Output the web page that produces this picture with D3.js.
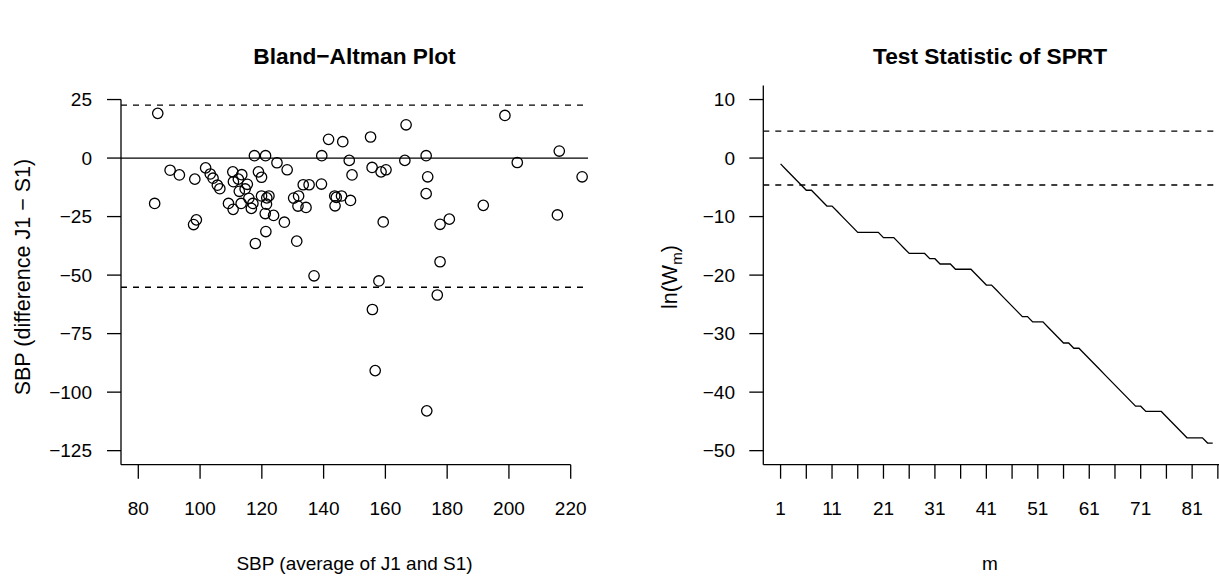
<!DOCTYPE html>
<html>
<head>
<meta charset="utf-8">
<script src="https://cdn.jsdelivr.net/npm/d3@7"></script>
<style>
  html, body { margin: 0; padding: 0; background: #fff; }
  svg { display: block; }
  text { font-family: "Liberation Sans", Arial, Helvetica, sans-serif; fill: #000; }
</style>
</head>
<body>
<svg id="chart" width="1219" height="577"></svg>
<script>
// ---------- Data: Bland-Altman ----------
const baAvg = [86.3, 90.3, 93.3, 85.3, 98.3, 97.9, 98.8, 101.8, 103.3, 104.2,
  105.6, 106.4, 109.2, 110.7, 110.6, 110.8, 112.4, 113.5, 112.7, 115.3,
  114.6, 113.3, 115.8, 116.6, 117.1, 117.6, 121.2, 118.9, 119.9, 117.9,
  121.3, 119.9, 122.3, 121.6, 121.5, 121.1, 123.8, 124.9, 127.3, 128.2,
  130.3, 131.9, 131.7, 131.3, 134.3, 133.4, 135.3, 139.4, 139.3, 136.9,
  141.6, 146.2, 148.3, 149.2, 155.2, 166.7, 155.7, 158.6, 160.2, 166.3,
  173.2, 173.7, 173.2, 198.7, 202.7, 216.3, 223.7, 143.6, 144.1, 145.8,
  143.7, 148.7, 159.3, 177.7, 180.7, 191.7, 215.7, 177.7, 157.9, 176.8,
  155.8, 156.7, 173.4];
const baDiff = [19.1, -5.2, -7.2, -19.4, -9.0, -28.4, -26.4, -4.2, -6.8, -8.6,
  -11.6, -13.1, -19.4, -21.9, -5.9, -10.1, -9.0, -7.1, -14.2, -11.2,
  -13.2, -19.4, -17.2, -21.5, -19.4, 1.0, 1.0, -5.9, -8.2, -36.5,
  -31.4, -16.2, -16.2, -17.0, -19.7, -23.7, -24.5, -2.0, -27.4, -5.0,
  -17.1, -16.2, -20.5, -35.5, -21.1, -11.4, -11.4, 1.0, -11.1, -50.3,
  8.0, 7.0, -1.0, -7.2, 9.0, 14.2, -4.0, -5.9, -5.0, -1.0,
  1.0, -8.0, -15.2, 18.2, -1.9, 3.0, -8.0, -16.2, -16.8, -16.2,
  -20.4, -18.1, -27.3, -28.3, -26.1, -20.2, -24.3, -44.3, -52.5, -58.5,
  -64.7, -90.8, -108.0];
const baMeanLine = 0;
const baLimits = [22.6, -55.2];
const baXTicks = [80, 100, 120, 140, 160, 180, 200, 220];
const baYTicks = [25, 0, -25, -50, -75, -100, -125];

// ---------- Data: SPRT test statistic (m = 1..85) ----------
const sprtW = [-1.0, -1.9, -2.8, -3.7, -4.6, -5.5, -5.5, -6.4, -7.3, -8.2,
  -8.2, -9.1, -10.0, -10.9, -11.8, -12.7, -12.7, -12.7, -12.7, -12.7,
  -13.6, -13.6, -13.6, -14.5, -15.4, -16.3, -16.3, -16.3, -16.3, -17.2,
  -17.2, -18.1, -18.1, -18.1, -19.0, -19.0, -19.0, -19.0, -19.9, -20.8,
  -21.7, -21.7, -22.6, -23.5, -24.4, -25.3, -26.2, -27.1, -27.1, -28.0,
  -28.0, -28.0, -28.9, -29.8, -30.7, -31.6, -31.6, -32.5, -32.5, -33.4,
  -34.3, -35.2, -36.1, -37.0, -37.9, -38.8, -39.7, -40.6, -41.5, -42.4,
  -42.4, -43.3, -43.3, -43.3, -43.3, -44.2, -45.1, -46.0, -46.9, -47.8,
  -47.8, -47.8, -47.8, -48.7, -48.7];
const sprtBounds = [4.6, -4.6];
const sprtXTicks = [1, 6, 11, 16, 21, 26, 31, 36, 41, 46, 51, 56, 61, 66, 71, 76, 81, 86];
const sprtXLabels = [1, 11, 21, 31, 41, 51, 61, 71, 81];
const sprtYTicks = [10, 0, -10, -20, -30, -40, -50];

// ---------- Layout ----------
const svg = d3.select("#chart");
const yTop = 85.5, yBot = 464.7;
const tickLen = 14;
const fmt = d3.format("d"); // uses U+2212 minus

const tickFont = "19px";
const labFont = "19px";
const yLabFont = "21.5px";
const titleFont = "bold 22.7px";

// ===== Left panel =====
const L = { x0: 121, x1: 588 };
const xL = d3.scaleLinear().domain([74.4, 225.6]).range([L.x0, L.x1]);
const yL = d3.scaleLinear().domain([-131, 31]).range([yBot, yTop]);

const gL = svg.append("g");
svg.append("clipPath").attr("id", "clipL").append("rect")
  .attr("x", L.x0).attr("y", yTop).attr("width", L.x1 - L.x0).attr("height", yBot - yTop);

const pL = gL.append("g").attr("clip-path", "url(#clipL)");
pL.append("line").attr("x1", L.x0).attr("x2", L.x1)
  .attr("y1", yL(baMeanLine)).attr("y2", yL(baMeanLine))
  .attr("stroke", "#000").attr("stroke-width", 1.3);
pL.selectAll("line.lim").data(baLimits).join("line").attr("class", "lim")
  .attr("x1", L.x0).attr("x2", L.x1)
  .attr("y1", d => yL(d)).attr("y2", d => yL(d))
  .attr("stroke", "#000").attr("stroke-width", 1.3).attr("stroke-dasharray", "6,6");
pL.selectAll("circle").data(baAvg).join("circle")
  .attr("cx", d => xL(d)).attr("cy", (d, i) => yL(baDiff[i]))
  .attr("r", 5.2).attr("fill", "none").attr("stroke", "#000").attr("stroke-width", 1.3);

gL.append("line").attr("x1", L.x0).attr("x2", L.x0)
  .attr("y1", yL(25)).attr("y2", yBot).attr("stroke", "#000").attr("stroke-width", 1.3);
gL.append("line").attr("x1", L.x0).attr("x2", xL(220))
  .attr("y1", yBot).attr("y2", yBot).attr("stroke", "#000").attr("stroke-width", 1.3);
gL.selectAll("line.xt").data(baXTicks).join("line").attr("class", "xt")
  .attr("x1", d => xL(d)).attr("x2", d => xL(d))
  .attr("y1", yBot).attr("y2", yBot + tickLen).attr("stroke", "#000").attr("stroke-width", 1.3);
gL.selectAll("text.xl").data(baXTicks).join("text").attr("class", "xl")
  .attr("x", d => xL(d)).attr("y", 515).attr("text-anchor", "middle")
  .style("font-size", tickFont).text(d => fmt(d));
gL.selectAll("line.yt").data(baYTicks).join("line").attr("class", "yt")
  .attr("x1", L.x0 - tickLen).attr("x2", L.x0)
  .attr("y1", d => yL(d)).attr("y2", d => yL(d)).attr("stroke", "#000").attr("stroke-width", 1.3);
gL.selectAll("text.yl").data(baYTicks).join("text").attr("class", "yl")
  .attr("x", 92).attr("y", d => yL(d)).attr("dy", "0.35em").attr("text-anchor", "end")
  .style("font-size", tickFont).text(d => fmt(d));
gL.append("text").attr("x", (L.x0 + L.x1) / 2).attr("y", 64).attr("text-anchor", "middle")
  .style("font", titleFont + " 'Liberation Sans', Arial, sans-serif").text("Bland\u2212Altman Plot");
gL.append("text").attr("x", (L.x0 + L.x1) / 2).attr("y", 570).attr("text-anchor", "middle")
  .style("font-size", labFont).text("SBP (average of J1 and S1)");
gL.append("text").attr("transform", `translate(30,${(yTop + yBot) / 2 + 2}) rotate(-90)`)
  .attr("text-anchor", "middle").style("font-size", yLabFont).text("SBP (difference J1 \u2212 S1)");

// ===== Right panel =====
const R = { x0: 763.3, x1: 1230 };
const xR = d3.scaleLinear().domain([-2.36, 88.36]).range([R.x0, R.x1]);
const yR = d3.scaleLinear().domain([-52.4, 12.4]).range([yBot, yTop]);
const gR = svg.append("g");
svg.append("clipPath").attr("id", "clipR").append("rect")
  .attr("x", R.x0).attr("y", yTop).attr("width", R.x1 - R.x0).attr("height", yBot - yTop);
const pR = gR.append("g").attr("clip-path", "url(#clipR)");
pR.selectAll("line.b").data(sprtBounds).join("line").attr("class", "b")
  .attr("x1", R.x0).attr("x2", R.x1)
  .attr("y1", d => yR(d)).attr("y2", d => yR(d))
  .attr("stroke", "#000").attr("stroke-width", 1.3).attr("stroke-dasharray", "6,6");
pR.append("path").datum(sprtW)
  .attr("d", d3.line().x((d, i) => xR(i + 1)).y(d => yR(d)))
  .attr("fill", "none").attr("stroke", "#000").attr("stroke-width", 1.3);

gR.append("line").attr("x1", R.x0).attr("x2", R.x0)
  .attr("y1", yTop).attr("y2", yBot).attr("stroke", "#000").attr("stroke-width", 1.3);
gR.append("line").attr("x1", R.x0).attr("x2", R.x1)
  .attr("y1", yBot).attr("y2", yBot).attr("stroke", "#000").attr("stroke-width", 1.3);
gR.selectAll("line.xt").data(sprtXTicks).join("line").attr("class", "xt")
  .attr("x1", d => xR(d)).attr("x2", d => xR(d))
  .attr("y1", yBot).attr("y2", yBot + tickLen).attr("stroke", "#000").attr("stroke-width", 1.3);
gR.selectAll("text.xl").data(sprtXLabels).join("text").attr("class", "xl")
  .attr("x", d => xR(d)).attr("y", 515).attr("text-anchor", "middle")
  .style("font-size", tickFont).text(d => fmt(d));
gR.selectAll("line.yt").data(sprtYTicks).join("line").attr("class", "yt")
  .attr("x1", R.x0 - tickLen).attr("x2", R.x0)
  .attr("y1", d => yR(d)).attr("y2", d => yR(d)).attr("stroke", "#000").attr("stroke-width", 1.3);
gR.selectAll("text.yl").data(sprtYTicks).join("text").attr("class", "yl")
  .attr("x", 735).attr("y", d => yR(d)).attr("dy", "0.35em").attr("text-anchor", "end")
  .style("font-size", tickFont).text(d => fmt(d));
gR.append("text").attr("x", 990).attr("y", 64).attr("text-anchor", "middle")
  .style("font", titleFont + " 'Liberation Sans', Arial, sans-serif").text("Test Statistic of SPRT");
gR.append("text").attr("x", 990).attr("y", 570).attr("text-anchor", "middle")
  .style("font-size", labFont).text("m");
const yt = gR.append("text").attr("transform", `translate(677,${(yTop + yBot) / 2 + 2}) rotate(-90)`)
  .attr("text-anchor", "middle").style("font-size", yLabFont);
yt.append("tspan").text("ln(W");
yt.append("tspan").attr("baseline-shift", "-30%").style("font-size", "15px").text("m");
yt.append("tspan").text(")");
</script>
</body>
</html>
